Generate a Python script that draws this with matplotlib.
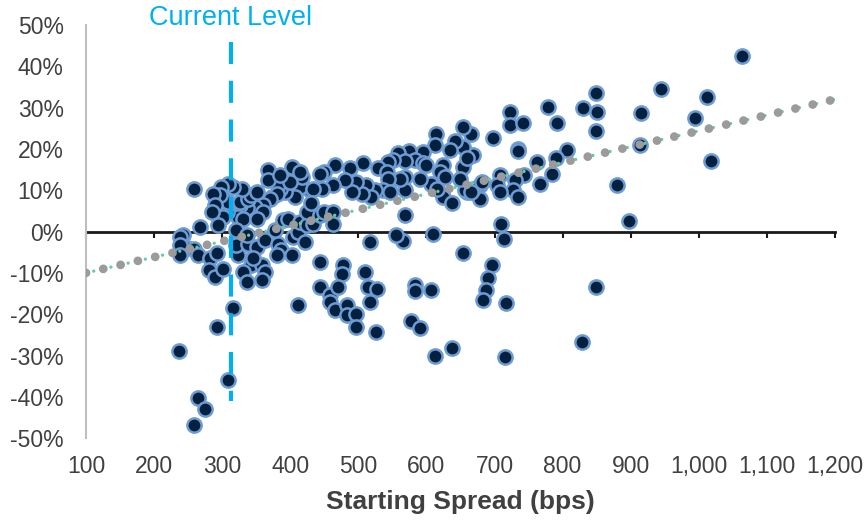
import numpy as np
import matplotlib.pyplot as plt
from matplotlib.ticker import FuncFormatter

plt.rcParams['font.family'] = ['Liberation Sans', 'DejaVu Sans']

# starting spread (bps) and subsequent return (%)
spread = [
    1063, 1012, 1018, 995, 945, 915, 914, 898, 880, 849, 850, 849, 830, 849, 828,
    792, 779, 806, 791, 762, 784, 767, 744, 730, 727, 735, 708, 703, 708, 678,
    678, 669, 659, 722, 722, 742, 698, 666, 654, 735, 735, 669, 654, 654, 710,
    714, 697, 691, 687, 683, 717, 715, 653, 638, 612, 609, 566, 583, 583, 606,
    578, 591, 568,
    614, 612, 642, 635, 659, 625, 620, 595, 575, 558, 583, 595, 568, 551, 544,
    529, 507, 488, 466, 449, 542, 568, 568, 607, 627, 625, 637, 656, 666, 681,
    650, 615, 600, 590, 561, 544, 536, 524, 546, 512, 519, 505, 497, 490, 480,
    463, 446, 429, 414, 407, 392, 385, 373, 390, 382, 417, 402, 399, 414, 443,
    434, 368, 368, 385, 380, 370, 360, 348, 336, 360, 326, 324, 307, 302, 331,
    321, 294, 292, 309, 326, 338, 343, 351, 329, 316, 309, 299, 297, 287, 289,
    285, 258, 267, 243, 248, 258, 238, 238, 238, 265, 282, 292, 280, 289, 302,
    324, 321, 338, 351, 363, 336, 343, 358, 363, 331, 336, 358, 346, 382, 387,
    380, 402, 404, 412, 421, 377, 390, 351, 397, 414, 424, 434, 424, 431, 443,
    449, 463, 463, 443, 478, 476, 510, 517, 556,
    443, 458, 458, 470, 466, 483, 483, 497, 497, 517, 514, 528, 526, 412, 316,
    292, 237, 309, 265, 275, 258,
]
returns = [
    42.5, 32.5, 17.1, 27.4, 34.5, 28.6, 21.0, 2.5, 11.2, 33.6, 29.0, 24.3, 30.0, -13.4, -26.7,
    26.4, 30.2, 19.7, 17.7, 16.9, 14.0, 11.6, 13.6, 12.4, 10.0, 8.4, 13.6, 11.2, 9.6, 11.2,
    8.0, 10.4, 9.6, 29.0, 25.7, 26.2, 22.7, 23.7, 25.3, 20.1, 19.4, 18.5, 20.5, 15.7, 1.9,
    -1.7, -8.0, -11.2, -14.2, -16.6, -17.4, -30.3, -5.3, -28.2, -30.1, -0.7, -2.3, -13.0, -14.4, -14.2,
    -21.6, -23.3, 3.9,
    23.5, 20.9, 21.9, 19.7, 17.7, 16.2, 14.5, 19.3, 19.4, 18.9, 17.3, 16.5, 17.0, 17.3, 16.9,
    15.3, 16.5, 15.3, 16.1, 14.4, 14.4, 13.2, 10.0, 11.6, 13.2, 8.4, 6.8, 10.0, 9.6, 12.0,
    12.8, 10.4, 16.1, 12.8, 12.8, 12.8, 10.0, 10.0, 9.6, 11.2, 8.4, 9.2, 12.0, 9.6, 12.4,
    11.2, 10.4, 10.0, 10.8, 8.4, 9.6, 10.4, 8.4, 12.8, 11.2, 13.2, 15.7, 12.0, 14.4, 14.0,
    10.4, 14.8, 12.4, 13.6, 9.2, 8.0, 6.4, 6.0, 5.6, 4.8, 6.4, 3.6, 4.8, 3.6, 3.1,
    0.3, 1.5, 7.2, 7.2, 7.2, 8.0, 8.8, 9.6, 10.4, 10.8, 11.6, 10.8, 8.8, 9.2, 6.4,
    4.8, 10.2, 1.1, -0.9, -3.9, -4.1, -1.3, -3.3, -5.7, -5.7, -6.5, -5.3, -9.4, -11.0, -9.0,
    -5.7, -3.3, -2.9, -3.7, -2.1, -0.9, -8.2, -8.2, -9.8, -9.8, -12.2, -11.8, -6.5, -2.9, -4.5,
    -5.7, -5.7, -1.3, 0.0, -2.5, 0.3, 2.7, 3.1, 3.1, 2.3, 1.5, 1.9, 4.8, 6.8, 3.9,
    4.8, 4.8, 1.9, -7.3, -8.2, -10.2, -9.8, -2.5, -0.9,
    -13.4, -15.3, -17.0, -13.4, -19.0, -17.8, -20.3, -19.9, -23.1, -17.0, -13.4, -13.8, -24.3, -17.7, -18.6,
    -23.1, -29.0, -36.0, -40.4, -42.9, -46.7,
]

trend_x = [100, 1200]
trend_y = [-10, 32]

current_level = 313
current_span = [46, -41]

x_ticks = list(range(100, 1201, 100))
y_ticks = list(range(-50, 51, 10))

fig, ax = plt.subplots(figsize=(8.68, 5.21), dpi=100)
fig.subplots_adjust(left=0.099, right=0.962, top=0.952, bottom=0.159)

ax.scatter(spread, returns, s=105, c='#04203f', edgecolors='#6d9bd2',
           linewidths=1.8, zorder=3)

# trendline: gray round dots with small green dots in between
ax.plot(trend_x, trend_y, color='#5fcf9f', lw=2.4, linestyle=(2.9, (0.01, 5.29)),
        dash_capstyle='round', zorder=4)
ax.plot(trend_x, trend_y, color='#9b9b9b', lw=6.3, linestyle=(0, (0.01, 2.02)),
        dash_capstyle='round', zorder=4)

ax.plot([current_level, current_level], current_span, color='#00b0f0', lw=3,
        linestyle=(0, (5.3, 4.0)), zorder=5)
ax.text(current_level, 51.8, 'Current Level', ha='center', va='center',
        color='#00b0f0', fontsize=19.5, clip_on=False)

ax.set_xlim(100, 1200)
ax.set_ylim(-50, 50)
ax.set_yticks(y_ticks)
ax.yaxis.set_major_formatter(FuncFormatter(lambda v, p: '{:.0f}%'.format(v)))
ax.tick_params(axis='y', length=0, pad=16, labelsize=16.5, labelcolor='#404040')

ax.spines['top'].set_visible(False)
ax.spines['right'].set_visible(False)
ax.spines['left'].set_color('#bfbfbf')
ax.spines['left'].set_linewidth(1.5)
ax.spines['bottom'].set_position(('data', 0))
ax.spines['bottom'].set_color('#1a1a1a')
ax.spines['bottom'].set_linewidth(2)
ax.spines['bottom'].set_zorder(2)
ax.set_xticks(x_ticks)
ax.tick_params(axis='x', direction='out', length=4, width=1.5, color='#1a1a1a',
               labelbottom=False)

# tick labels sit at the bottom of the plot, not on the zero line
sec = ax.secondary_xaxis('bottom')
sec.set_xticks(x_ticks)
sec.xaxis.set_major_formatter(FuncFormatter(lambda v, p: '{:,.0f}'.format(v)))
sec.tick_params(length=0, pad=12, labelsize=16.5, labelcolor='#404040')
sec.spines['bottom'].set_visible(False)
sec.set_xlabel('Starting Spread (bps)', fontsize=19, fontweight='bold',
               color='#404040', labelpad=9)

plt.savefig('out.png')
